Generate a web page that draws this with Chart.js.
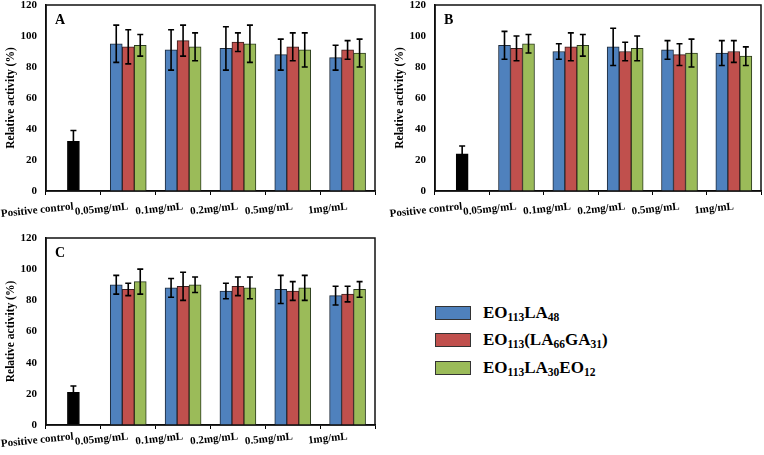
<!DOCTYPE html>
<html><head><meta charset="utf-8">
<script src="https://cdn.jsdelivr.net/npm/chart.js@4.4.0/dist/chart.umd.min.js"></script>
<style>
body{margin:0;width:764px;height:455px;background:#fff;position:relative;overflow:hidden;font-family:'Liberation Serif','Times New Roman',serif;}
canvas{position:absolute;}
.legend{position:absolute;left:435px;top:299px;font-weight:bold;font-size:17px;color:#000;}
.item{height:27.5px;display:flex;align-items:center;white-space:nowrap;}
.sw{width:34px;height:12px;border:1px solid #333;margin-right:12px;flex:none;}
.sub{font-size:11.5px;position:relative;top:3px;}
</style>
</head><body>
<canvas id="cA" width="380" height="225" style="left:0;top:0"></canvas>
<canvas id="cB" width="375" height="225" style="left:389px;top:0"></canvas>
<canvas id="cC" width="380" height="225" style="left:0;top:230px"></canvas>
<div class="legend" id="legend"></div>
<script>
// ---- data ----
const categories = ['Positive control','0.05mg/mL','0.1mg/mL','0.2mg/mL','0.5mg/mL','1mg/mL'];
const yTicks = [0,20,40,60,80,100,120];
const seriesNames = ['EO113LA48','EO113(LA66GA31)','EO113LA30EO12'];
const seriesLegendParts = [
  [['EO',0],['113',1],['LA',0],['48',1]],
  [['EO',0],['113',1],['(LA',0],['66',1],['GA',0],['31',1],[')',0]],
  [['EO',0],['113',1],['LA',0],['30',1],['EO',0],['12',1]]
];
const seriesColors = ['#4F81BD','#C0504D','#9BBB59'];

// Panel A
const controlA = 32, controlErrA = 7;
const blueA  = [95, 91, 92, 88, 86];  const blueErrA  = [12, 13, 14, 10, 8];
const redA   = [93, 97, 96, 93, 91];  const redErrA   = [11, 10, 6, 9, 6];
const greenA = [94, 93, 95, 91, 89];  const greenErrA = [7, 9, 12, 11, 9];
// Panel B
const controlB = 24, controlErrB = 5;
const blueB  = [94, 90, 93, 91, 89];  const blueErrB  = [9, 5, 12, 6, 8];
const redB   = [92, 93, 90, 88, 90];  const redErrB   = [8, 9, 6, 7, 7];
const greenB = [95, 94, 92, 89, 87];  const greenErrB = [6, 7, 8, 9, 6];
// Panel C
const controlC = 21, controlErrC = 4;
const blueC  = [90, 88, 86, 87, 83];  const blueErrC  = [6, 6, 5, 9, 6];
const redC   = [87, 89, 89, 86, 84];  const redErrC   = [4, 9, 6, 6, 5];
const greenC = [92, 90, 88, 88, 87];  const greenErrC = [8, 5, 7, 8, 5];

// ---- legend ----
document.getElementById('legend').innerHTML = seriesLegendParts.map((parts,i)=>
  '<div class="item"><span class="sw" style="background:'+seriesColors[i]+'"></span><span>'+
  parts.map(p=>p[1]?'<span class="sub">'+p[0]+'</span>':p[0]).join('')+'</span></div>').join('');

const FONT = "'Liberation Serif','Times New Roman',serif";

const errorBars = {
  id:'errorBars',
  afterDatasetsDraw(chart){
    const ctx=chart.ctx, ys=chart.scales.y;
    ctx.save(); ctx.strokeStyle='#000'; ctx.lineWidth=1.6;
    chart.data.datasets.forEach((ds,i)=>{
      const meta=chart.getDatasetMeta(i);
      meta.data.forEach((el,j)=>{
        const v=ds.data[j], e=ds.errors[j];
        if(v==null||e==null) return;
        const x=el.x, yt=ys.getPixelForValue(v+e), yb=ys.getPixelForValue(v-e);
        ctx.beginPath();
        ctx.moveTo(x,yt); ctx.lineTo(x,yb);
        ctx.moveTo(x-3,yt); ctx.lineTo(x+3,yt);
        ctx.moveTo(x-3,yb); ctx.lineTo(x+3,yb);
        ctx.stroke();
      });
    });
    ctx.restore();
  }
};
const frame = {
  id:'frame',
  afterDraw(chart, args, opts){
    const a=chart.chartArea, ctx=chart.ctx;
    ctx.save();
    ctx.strokeStyle='#111'; ctx.lineWidth=1.5;
    ctx.strokeRect(a.left, a.top, a.right-a.left, a.bottom-a.top);
    ctx.fillStyle='#000'; ctx.font='bold 14px '+FONT; ctx.textBaseline='alphabetic';
    ctx.fillText(opts.letter, a.left+9, a.top+19);
    ctx.restore();
  }
};

function makeChart(id, letter, ctrl, ctrlErr, b, be, r, re, g, ge, L){
  const nul = [null];
  const datasets = [
    {label:'Positive control', data:[ctrl,null,null,null,null,null], errors:[ctrlErr,null,null,null,null,null],
     backgroundColor:'#000', borderColor:'#000', borderWidth:1, grouped:false, barThickness:12},
    {label:seriesNames[0], data:nul.concat(b), errors:nul.concat(be), backgroundColor:seriesColors[0], borderColor:'#1e2a3a', borderWidth:1, barThickness:12},
    {label:seriesNames[1], data:nul.concat(r), errors:nul.concat(re), backgroundColor:seriesColors[1], borderColor:'#3a1e1e', borderWidth:1, barThickness:12},
    {label:seriesNames[2], data:nul.concat(g), errors:nul.concat(ge), backgroundColor:seriesColors[2], borderColor:'#2a3a1e', borderWidth:1, barThickness:12}
  ];
  return new Chart(document.getElementById(id), {
    type:'bar',
    data:{labels:categories, datasets},
    options:{
      responsive:false, animation:false, devicePixelRatio:1,
      layout:{padding:{left:L.padLeft, top:L.padTop, right:L.padRight, bottom:0}},
      plugins:{legend:{display:false}, tooltip:{enabled:false}, frame:{letter}},
      scales:{
        x:{
          offset:true,
          grid:{display:true, drawOnChartArea:false, drawTicks:true, tickLength:4, offset:true, color:'#000', lineWidth:1},
          border:{display:true, color:'#000', width:1.5},
          ticks:{autoSkip:false, minRotation:6, maxRotation:6, padding:L.xPad, color:'#000', font:{family:FONT, size:11, weight:'bold'}},
          afterFit:s=>{s.height=L.xHeight; s.paddingLeft=0; s.paddingRight=0;}
        },
        y:{
          min:0, max:120,
          afterBuildTicks:s=>{s.ticks=yTicks.map(v=>({value:v}));},
          grid:{display:false, drawTicks:false},
          border:{display:true, color:'#000', width:1.5},
          ticks:{padding:9, color:'#000', font:{family:FONT, size:11, weight:'bold'}},
          title:{display:true, text:'Relative activity (%)', color:'#000', padding:{top:0,bottom:0}, font:{family:FONT, size:11.5, weight:'bold'}},
          afterFit:s=>{s.width=L.yWidth; s.paddingTop=0; s.paddingBottom=0;}
        }
      }
    },
    plugins:[errorBars, frame]
  });
}

makeChart('cA','A',controlA,controlErrA,blueA,blueErrA,redA,redErrA,greenA,greenErrA,
  {padLeft:4,padTop:5,padRight:5,xHeight:34,xPad:5,yWidth:42});
makeChart('cB','B',controlB,controlErrB,blueB,blueErrB,redB,redErrB,greenB,greenErrB,
  {padLeft:4,padTop:5,padRight:3,xHeight:34,xPad:5,yWidth:42});
makeChart('cC','C',controlC,controlErrC,blueC,blueErrC,redC,redErrC,greenC,greenErrC,
  {padLeft:4,padTop:8,padRight:5,xHeight:30,xPad:1,yWidth:42});
</script>
</body></html>
